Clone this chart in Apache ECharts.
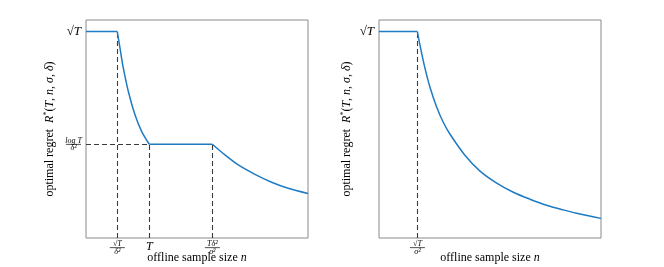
<!DOCTYPE html>
<html>
<head>
<meta charset="utf-8">
<script src="https://cdn.jsdelivr.net/npm/echarts@6/dist/echarts.min.js"></script>
<style>html,body{margin:0;padding:0;background:#fff}#c{width:664px;height:267px}</style>
</head>
<body>
<div id="c"></div>
<script>
// ---- data (abstract units, 0..100 on both axes) ----
var leftX  = [0, 14.1, 15.3, 16.8, 19.1, 22.1, 25.1, 28.5, 56.9, 62.6, 68.6, 76.1, 83.6, 91.1, 100];
var leftY  = [94.7, 94.7, 87.2, 78.0, 67.1, 56.4, 48.8, 43.0, 43.0, 38.1, 33.5, 29.2, 25.6, 22.8, 20.4];
var rightX = [0, 17.3, 18.5, 20.7, 23.0, 26.0, 29.0, 32.0, 38.7, 45.5, 53.0, 60.5, 68.0, 75.5, 83.0, 90.5, 100];
var rightY = [94.7, 94.7, 88.3, 77.9, 69.0, 60.0, 53.0, 47.6, 38.0, 30.7, 25.2, 21.0, 17.8, 15.0, 12.9, 11.0, 9.0];

// index ranges of the curved (smooth) pieces in each series; the rest are straight
var leftCurves  = [[1, 7], [8, 14]];
var rightCurves = [[1, 16]];

var leftXTicks  = [14.1, 28.5, 56.9];            // sqrt(T)/δ², T, Tδ²/σ²
var leftXLabels = ['sqrtT_d2', 'T', 'Td2_s2'];
var leftYTicks  = [94.7, 43.0];                  // sqrt(T), logT/δ²
var leftYLabels = ['sqrtT', 'logT_d2'];
var rightXTicks  = [17.3];
var rightXLabels = ['sqrtT_s2'];
var rightYTicks  = [94.7];
var rightYLabels = ['sqrtT'];

var xName = 'offline sample size {i|n}';
var yName = 'optimal regret  {i|R}{sup|*}({i|T}, {i|n}, {i|σ}, {i|δ})';

// ---- build ----
var serif = 'Liberation Serif';
var labelText = {
  sqrtT: '{r|√}{ri|T}',
  logT_d2: '{fn|log T}\n{fb|}\n{fd|δ²}',
  sqrtT_d2: '{fn|√T}\n{fb|}\n{fd|δ²}',
  sqrtT_s2: '{fn|√T}\n{fb|}\n{fd|σ²}',
  Td2_s2: '{fn|Tδ²}\n{fb|}\n{fd|σ²}',
  T: '{ti|T}'
};
var fracW = 15;
var rich = {
  r: {fontFamily: serif, fontSize: 13, color: '#000'},
  ri: {fontFamily: serif, fontSize: 13, fontStyle: 'italic', color: '#000'},
  ti: {fontFamily: serif, fontSize: 12, fontStyle: 'italic', color: '#000', lineHeight: 12},
  fn: {fontFamily: serif, fontSize: 8, fontStyle: 'italic', color: '#000', width: fracW, align: 'center', lineHeight: 6},
  fb: {width: fracW, height: 0.7, lineHeight: 1.5, backgroundColor: '#000'},
  fd: {fontFamily: serif, fontSize: 8, fontStyle: 'italic', color: '#000', width: fracW, align: 'center', lineHeight: 6}
};
var nameRich = {
  i: {fontFamily: serif, fontSize: 12, fontStyle: 'italic', color: '#000'},
  sup: {fontFamily: serif, fontSize: 8, color: '#000', verticalAlign: 'top', padding: [0, 0, 6, 0]}
};

function xAxis(gi, ticks, labels) {
  return {
    gridIndex: gi, type: 'value', min: 0, max: 100,
    axisLine: {show: false}, axisTick: {show: false}, splitLine: {show: false},
    axisLabel: {
      customValues: ticks, margin: 3, rich: rich,
      formatter: function (v) { var k = ticks.indexOf(v); return k < 0 ? '' : labelText[labels[k]]; }
    },
    name: xName, nameLocation: 'middle', nameGap: 14, nameMoveOverlap: false,
    nameTextStyle: {fontFamily: serif, fontSize: 12, color: '#000', rich: nameRich}
  };
}
function yAxis(gi, ticks, labels, gap) {
  return {
    gridIndex: gi, type: 'value', min: 0, max: 100,
    axisLine: {show: false}, axisTick: {show: false}, splitLine: {show: false},
    axisLabel: {
      customValues: ticks, margin: 5, rich: rich,
      formatter: function (v) { var k = ticks.indexOf(v); return k < 0 ? '' : labelText[labels[k]]; }
    },
    name: yName, nameLocation: 'middle', nameGap: gap, nameRotate: 90, nameMoveOverlap: false,
    nameTextStyle: {fontFamily: serif, fontSize: 12, color: '#000', rich: nameRich}
  };
}
function zip(a, b) { return a.map(function (x, i) { return [x, b[i]]; }); }

var dash = {type: [5, 3], color: '#3a3a3a', width: 1.1};
function vline(x, y) { return [{coord: [x, 0]}, {coord: [x, y]}]; }

// split a polyline into straight and smooth pieces
function pieces(xs, ys, curves, gi) {
  var pts = zip(xs, ys), out = [], cur = 0;
  var segs = [];
  curves.forEach(function (c) {
    if (c[0] > cur) segs.push([cur, c[0], false]);
    segs.push([c[0], c[1], true]);
    cur = c[1];
  });
  if (cur < pts.length - 1) segs.push([cur, pts.length - 1, false]);
  segs.forEach(function (s) {
    out.push({
      type: 'line', xAxisIndex: gi, yAxisIndex: gi, data: pts.slice(s[0], s[1] + 1),
      showSymbol: false, smooth: s[2] ? 0.3 : false, silent: true,
      lineStyle: {color: '#1f7bc2', width: 1.5}, z: 3
    });
  });
  return out;
}

var series = [].concat(pieces(leftX, leftY, leftCurves, 0), pieces(rightX, rightY, rightCurves, 1));
series.push({
  type: 'line', xAxisIndex: 0, yAxisIndex: 0, data: [],
  markLine: {
    silent: true, symbol: 'none', label: {show: false}, lineStyle: dash, z: 2,
    data: [
      vline(leftXTicks[0], leftYTicks[0]),
      vline(leftXTicks[1], leftYTicks[1]),
      vline(leftXTicks[2], leftYTicks[1]),
      [{coord: [0, leftYTicks[1]]}, {coord: [leftXTicks[1], leftYTicks[1]]}]
    ]
  }
});
series.push({
  type: 'line', xAxisIndex: 1, yAxisIndex: 1, data: [],
  markLine: {
    silent: true, symbol: 'none', label: {show: false}, lineStyle: dash, z: 2,
    data: [vline(rightXTicks[0], rightYTicks[0])]
  }
});

var option = {
  animation: false,
  backgroundColor: '#fff',
  grid: [
    {left: 86, top: 20, width: 222, height: 218, outerBoundsMode: 'none', containLabel: false, show: true, borderColor: '#8a8a8a', borderWidth: 1, backgroundColor: 'transparent'},
    {left: 379, top: 20, width: 222, height: 218, outerBoundsMode: 'none', containLabel: false, show: true, borderColor: '#8a8a8a', borderWidth: 1, backgroundColor: 'transparent'}
  ],
  xAxis: [xAxis(0, leftXTicks, leftXLabels), xAxis(1, rightXTicks, rightXLabels)],
  yAxis: [yAxis(0, leftYTicks, leftYLabels, 29), yAxis(1, rightYTicks, rightYLabels, 25)],
  series: series
};
var chart = echarts.init(document.getElementById('c'), null, {renderer: 'canvas'});
chart.setOption(option);
</script>
</body>
</html>
